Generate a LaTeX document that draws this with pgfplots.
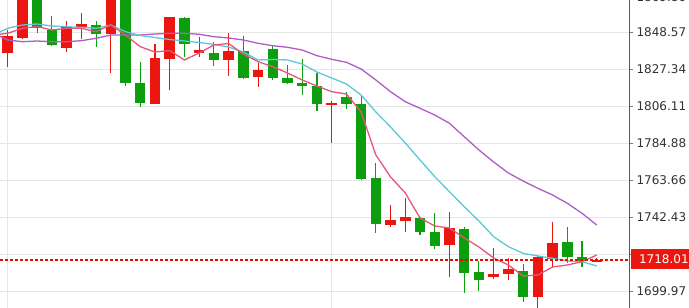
\documentclass[border=0pt]{standalone}
\usepackage{pgfplots}
\pgfplotsset{compat=1.18}
\usepackage{pgfplotstable}
\usepackage{fontspec}
\setmainfont{DejaVu Sans}
\definecolor{cred}{RGB}{236,22,16}
\definecolor{pred}{RGB}{255,0,0}
\definecolor{cgreen}{RGB}{12,158,12}
\definecolor{maA}{RGB}{230,86,122}
\definecolor{maB}{RGB}{92,200,216}
\definecolor{maC}{RGB}{176,92,200}
\definecolor{gridc}{RGB}{230,230,230}
\definecolor{axc}{RGB}{90,90,90}
\definecolor{txt}{RGB}{50,50,50}

\pgfplotstableread{
i bt bb wt wb
0 1846.45 1836.69 1849.89 1828.66
1 1872.00 1845.30 1875.00 1844.73
4 1851.61 1839.56 1855.05 1837.27
5 1853.33 1851.61 1859.64 1844.73
7 1872.00 1847.60 1875.00 1825.22
10 1833.82 1807.44 1841.86 1807.44
11 1857.35 1833.25 1857.60 1815.46
13 1838.41 1836.69 1845.87 1834.40
15 1837.84 1832.68 1848.17 1823.50
17 1826.94 1822.92 1830.96 1817.19
22 1807.75 1806.95 1809.16 1785.06
26 1740.87 1738.00 1749.48 1736.86
27 1742.60 1740.30 1753.50 1733.99
30 1736.28 1726.52 1745.46 1708.16
33 1709.88 1708.16 1724.80 1707.01
34 1712.75 1709.88 1719.06 1706.44
36 1719.64 1696.69 1720.78 1686.00
37 1727.67 1718.49 1739.73 1713.90
40 1718.01 1716.77 1719.30 1716.50
}\redtab

\pgfplotstableread{
i bt bb wt wb
2 1872.00 1851.04 1875.00 1848.17
3 1849.89 1841.28 1857.92 1840.90
6 1852.76 1847.60 1855.05 1840.14
8 1875.00 1819.48 1877.00 1817.76
9 1819.48 1808.01 1831.53 1805.72
12 1856.78 1841.86 1857.35 1834.40
14 1836.69 1832.68 1843.00 1829.23
16 1837.84 1822.35 1846.45 1821.80
18 1838.99 1822.35 1840.71 1821.20
19 1822.35 1819.48 1829.81 1818.91
20 1819.48 1817.76 1833.25 1812.60
21 1817.76 1807.44 1825.22 1803.42
23 1811.45 1807.44 1814.32 1804.57
24 1807.44 1764.40 1812.60 1764.00
25 1764.97 1738.58 1773.58 1733.41
28 1742.02 1733.99 1742.30 1732.26
29 1733.99 1725.95 1744.89 1724.23
31 1735.71 1710.46 1736.86 1698.98
32 1711.03 1706.44 1717.34 1700.13
35 1711.60 1696.69 1715.62 1693.82
38 1728.25 1719.64 1736.86 1716.20
39 1719.64 1717.34 1728.82 1713.90
}\greentab

\pgfplotstableread{
i ma5 ma10 ma20
-1 1847.02 1847.02 1848.16
0 1847.99 1850.86 1844.15
1 1850.86 1852.75 1843.17
2 1851.89 1853.33 1843.57
3 1849.89 1852.18 1843.17
4 1850.86 1851.78 1843.17
5 1850.86 1851.44 1843.75
6 1848.91 1850.86 1845.12
7 1852.75 1852.75 1847.02
8 1847.02 1848.91 1847.02
9 1840.30 1846.73 1847.02
10 1837.26 1845.58 1847.59
11 1838.12 1844.43 1847.99
12 1832.67 1843.57 1847.99
13 1836.69 1842.71 1847.42
14 1841.28 1841.57 1846.04
15 1842.14 1840.13 1845.30
16 1836.11 1837.26 1844.15
17 1831.70 1832.67 1842.25
18 1828.83 1832.96 1840.88
19 1825.21 1832.67 1839.96
20 1821.20 1830.38 1838.41
21 1817.75 1825.79 1835.14
22 1814.48 1822.34 1833.07
23 1813.16 1818.90 1831.35
24 1802.83 1812.59 1827.51
25 1778.16 1802.83 1821.20
26 1765.54 1794.23 1814.48
27 1756.36 1785.05 1808.74
28 1742.01 1775.29 1804.96
29 1737.42 1765.71 1801.11
30 1736.27 1757.10 1796.35
31 1730.54 1748.50 1788.66
32 1725.37 1740.29 1781.03
33 1719.06 1731.28 1774.14
34 1715.04 1725.54 1767.83
35 1708.73 1721.76 1763.24
36 1709.30 1720.21 1759.05
37 1713.90 1718.89 1755.21
38 1715.04 1717.34 1750.45
39 1716.94 1716.94 1744.71
40 1720.78 1714.47 1737.99
}\matab

\pgfplotstableread{
x y
-0.523 1718.01
42.19 1718.01
}\pricetab

\begin{document}
\begin{tikzpicture}
\begin{axis}[
  at={(0,0)}, anchor=south west,
  scale only axis, width=629pt, height=308pt,
  xmin=-0.523, xmax=42.19, ymin=1690.37, ymax=1867.10,
  clip=false,
  axis line style={draw=none},
  xtick={0,22}, xticklabels={}, xmajorgrids,
  xtick style={draw=none},
  ytick={1699.97,1721.20,1742.43,1763.66,1784.88,1806.11,1827.34,1848.57},
  yticklabels={1699.97,,1742.43,1763.66,1784.88,1806.11,1827.34,1848.57},
  ymajorgrids,
  grid style={gridc, line width=0.8pt},
  ytick pos=right, yticklabel pos=right,
  tick align=outside, major tick length=4pt,
  ytick style={draw=axc!80, line width=0.8pt},
  yticklabel style={font=\fontsize{12}{14}\selectfont, text=txt},
]
% wicks
\addplot[forget plot, draw=none, mark=none,
  error bars/.cd, y dir=plus, y explicit, error mark=none,
  error bar style={draw=cred, line width=1.1pt, solid}]
  table[x=i, y=wb, y error expr=\thisrow{wt}-\thisrow{wb}] {\redtab};
\addplot[forget plot, draw=none, mark=none,
  error bars/.cd, y dir=plus, y explicit, error mark=none,
  error bar style={draw=cgreen, line width=1.1pt, solid}]
  table[x=i, y=wb, y error expr=\thisrow{wt}-\thisrow{wb}] {\greentab};
% bodies
\addplot[forget plot, draw=none, mark=none,
  error bars/.cd, y dir=plus, y explicit, error mark=none,
  error bar style={draw=cred, line width=10.5pt, solid}]
  table[x=i, y=bb, y error expr=\thisrow{bt}-\thisrow{bb}] {\redtab};
\addplot[forget plot, draw=none, mark=none,
  error bars/.cd, y dir=plus, y explicit, error mark=none,
  error bar style={draw=cgreen, line width=10.5pt, solid}]
  table[x=i, y=bb, y error expr=\thisrow{bt}-\thisrow{bb}] {\greentab};
% moving averages
\addplot[draw=maC, line width=1.3pt, mark=none] table[x=i, y=ma20] {\matab};
\addplot[draw=maB, line width=1.3pt, mark=none] table[x=i, y=ma10] {\matab};
\addplot[draw=maA, line width=1.3pt, mark=none] table[x=i, y=ma5] {\matab};
% price line
\addplot[draw=pred, line width=1.6pt, mark=none, dash pattern=on 3pt off 2pt]
  table[x=x, y=y] {\pricetab};
\draw[axc, line width=0.8pt] (rel axis cs:1,0) -- (rel axis cs:1,1);
\coordinate (pl) at (axis cs:42.19,1718.01);
\coordinate (tl) at (axis cs:42.19,1869.80);
\end{axis}
\node[fill=cred, text=white, anchor=west, minimum height=19.5pt, minimum width=66pt,
  inner sep=0pt, font=\fontsize{12}{14}\selectfont] at ([xshift=1.7pt, yshift=1pt]pl) {1718.01};
\node[anchor=west, text=txt, font=\fontsize{12}{14}\selectfont] at ([xshift=4pt, yshift=-1.5pt]tl) {1869.80};
\pgfresetboundingbox
\path[use as bounding box] (0,0) rectangle (689pt,308pt);
\end{tikzpicture}
\end{document}
